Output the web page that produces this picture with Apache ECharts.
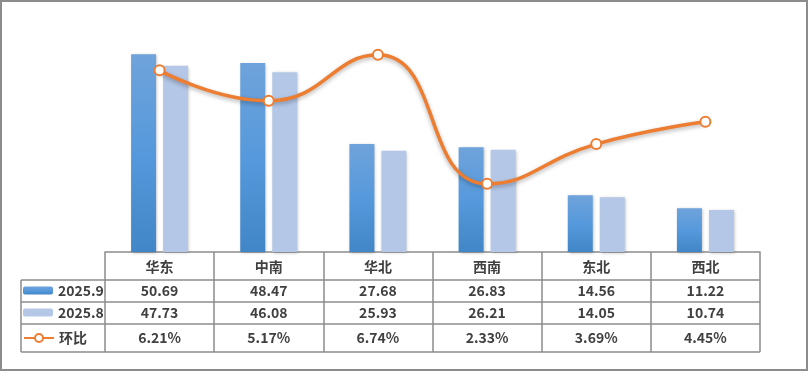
<!DOCTYPE html>
<html><head><meta charset="utf-8">
<script src="https://cdn.jsdelivr.net/npm/echarts@6/dist/echarts.min.js"></script>
<style>html,body{margin:0;padding:0;background:#fff}#c{width:809px;height:373px}</style>
</head><body><div id="c"></div>
<script>
// ---- data ----
const categories = ['华东', '中南', '华北', '西南', '东北', '西北'];
const sep2025 = [50.69, 48.47, 27.68, 26.83, 14.56, 11.22];
const aug2025 = [47.73, 46.08, 25.93, 26.21, 14.05, 10.74];
const momPct = [6.21, 5.17, 6.74, 2.33, 3.69, 4.45];
const seriesNames = ['2025.9', '2025.8', '环比'];

// ---- layout / style ----
const FONT = '"Noto Sans CJK SC", "Noto Sans", sans-serif';
const TXT = '#404040';
const LINE = '#8c8c8c';
const plotL = 105, plotR = 760, plotT = 18, baseY = 252;
const tableLines = [280, 302, 324, 352];
const rowCenters = [267, 291, 312.5, 338];
const legendCenters = [290.5, 312.5, 338];
const W = 809, H = 373;

const rowFormat = [
  (v, i) => v,
  (v, i) => sep2025[i].toFixed(2),
  (v, i) => aug2025[i].toFixed(2),
  (v, i) => momPct[i].toFixed(2) + '%'
];

const xAxes = rowFormat.map((fmt, k) => ({
  type: 'category', data: categories, position: 'bottom',
  axisLine: { show: k === 0, lineStyle: { color: LINE, width: 1.5 } },
  axisTick: { show: k === 0, length: tableLines[3] - baseY, interval: 0, lineStyle: { color: LINE, width: 1.5 } },
  axisLabel: {
    show: true, interval: 0, margin: rowCenters[k] - baseY, verticalAlign: 'middle',
    fontFamily: FONT, fontSize: 14, fontWeight: 'bold', color: TXT, formatter: fmt
  },
  splitLine: { show: false }
}));

const labelText = { fontFamily: FONT, fontSize: 14, fontWeight: 'bold', color: TXT, lineHeight: 16 };

const chart = echarts.init(document.getElementById('c'), null, { renderer: 'canvas' });
chart.setOption({
  animation: false,
  backgroundColor: '#fff',
  grid: { left: plotL, right: W - plotR, top: plotT, bottom: H - baseY, containLabel: false },
  xAxis: xAxes,
  yAxis: [
    { type: 'value', min: 0, max: 60, show: false },
    { type: 'value', min: 0, max: 8, show: false }
  ],
  legend: seriesNames.map((n, i) => ({
    data: [n], left: 23, top: legendCenters[i] - 8, padding: 0, itemGap: 0,
    itemWidth: 30, itemHeight: i === 2 ? 10 : 8, selectedMode: false,
    textStyle: labelText
  })),
  series: [
    {
      name: seriesNames[0], type: 'bar', data: sep2025, barWidth: 25, barGap: '28%',
      itemStyle: {
        color: new echarts.graphic.LinearGradient(0, 0, 0, 1, [
          { offset: 0, color: '#6fa3db' }, { offset: 0.5, color: '#5699dc' }, { offset: 1, color: '#4186c7' }
        ]),
        shadowColor: 'rgba(0,0,0,0.25)', shadowBlur: 3, shadowOffsetX: 1, shadowOffsetY: 1
      }
    },
    {
      name: seriesNames[1], type: 'bar', data: aug2025, barWidth: 25, barGap: '28%',
      itemStyle: {
        color: '#b4c7e7',
        shadowColor: 'rgba(0,0,0,0.25)', shadowBlur: 3, shadowOffsetX: 1, shadowOffsetY: 1
      }
    },
    {
      name: seriesNames[2], type: 'line', yAxisIndex: 1, data: momPct, smooth: 0.5, z: 5,
      symbol: 'circle', symbolSize: 10,
      lineStyle: { color: '#ed7d31', width: 3.5, shadowColor: 'rgba(0,0,0,0.3)', shadowBlur: 4, shadowOffsetY: 2 },
      itemStyle: { color: '#ffffff', borderColor: '#ed7d31', borderWidth: 2 }
    }
  ],
  graphic: [
    { type: 'rect', silent: true, shape: { x: 1, y: 1, width: W - 3, height: H - 4 }, style: { fill: null, stroke: '#8c8c8c', lineWidth: 2 } },
    ...tableLines.map(y => ({ type: 'line', silent: true, shape: { x1: 21, y1: y, x2: plotR, y2: y }, style: { stroke: LINE, lineWidth: 1.5 } })),
    { type: 'line', silent: true, shape: { x1: 21, y1: tableLines[0], x2: 21, y2: tableLines[3] }, style: { stroke: LINE, lineWidth: 1.5 } }
  ]
});
</script></body></html>
